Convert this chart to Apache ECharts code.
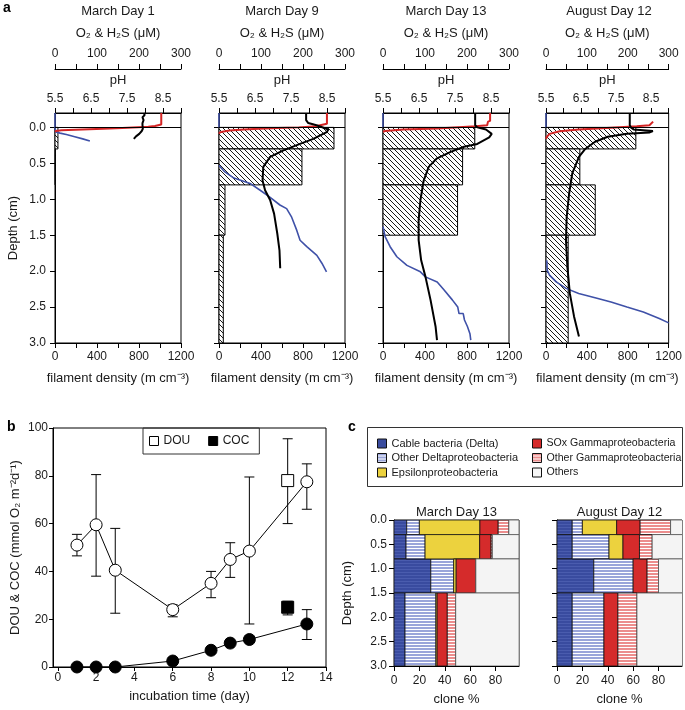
<!DOCTYPE html>
<html><head><meta charset="utf-8">
<script src="https://cdn.jsdelivr.net/npm/echarts@6/dist/echarts.min.js"></script>
<style>html,body{margin:0;padding:0;background:#fff}#c{width:685px;height:710px}</style>
</head><body><div id="c"></div>
<script>
// ---------------- DATA: panel a ----------------
const depthEdges = [0, 0.3, 0.8, 1.5, 3.0];
const panelTitlesA = ['March Day 1', 'March Day 9', 'March Day 13', 'August Day 12'];
const fil_d1 = [28, 4, 0, 0];
const fil_d9 = [1095, 790, 57, 41];
const fil_d13 = [874, 758, 710, 0];
const fil_a12 = [879, 331, 482, 217];

const h2sWaterDepth = [-0.2, 0];
const h2sWaterVal = [0, 0];

const o2Depth_d1 = [-0.2, -0.04, -0.02, -0.01, 0.01, 0.02, 0.03, 0.04, 0.05, 0.06];
const o2Val_d1 = [253, 253, 238, 222, 160, 115, 65, 15, 3, 0];
const h2sDepth_d1 = [0.0, 0.065, 0.08, 0.1, 0.13, 0.16, 0.19];
const h2sVal_d1 = [0, 2, 12, 27, 47, 66, 83];
const phDepth_d1 = [-0.2, -0.17, -0.14, -0.1, -0.06, -0.03, 0.02, 0.05, 0.09, 0.125, 0.16];
const phVal_d1 = [7.97, 7.99, 7.93, 7.96, 7.93, 7.93, 7.94, 7.91, 7.84, 7.75, 7.69];

const o2Depth_d9 = [-0.2, -0.05, -0.03, -0.015, 0, 0.01, 0.02, 0.03, 0.045, 0.06, 0.07, 0.09];
const o2Val_d9 = [257, 257, 253, 230, 190, 140, 95, 60, 25, 8, 2, 0];
const h2sDepth_d9 = [0.53, 0.62, 0.70, 0.78, 0.875, 0.97, 1.08, 1.13, 1.25, 1.43, 1.57, 1.66, 1.78, 1.89, 2.01];
const h2sVal_d9 = [0, 14, 34, 74, 98, 121, 145, 161, 173, 185, 193, 209, 233, 245, 256];
const phDepth_d9 = [-0.2, -0.1, -0.06, -0.03, 0.03, 0.065, 0.16, 0.23, 0.32, 0.41, 0.55, 0.74, 0.875, 1.01, 1.2, 1.48, 1.71, 1.96];
const phVal_d9 = [7.92, 7.92, 7.98, 8.21, 8.54, 8.49, 8.12, 7.75, 7.29, 6.92, 6.73, 6.71, 6.78, 6.92, 7.03, 7.12, 7.18, 7.2];

const o2Depth_d13 = [-0.2, -0.09, -0.08, -0.03, -0.014, 0.014, 0.03, 0.05, 0.06];
const o2Val_d13 = [255, 255, 250, 248, 221, 129, 49, 5, 0];
const h2sDepth_d13 = [1.38, 1.52, 1.66, 1.8, 1.92, 2.01, 2.08, 2.15, 2.26, 2.4, 2.5, 2.59, 2.59, 2.68, 2.77, 2.87, 2.96];
const h2sVal_d13 = [0, 5, 17, 33, 57, 89, 101, 129, 145, 165, 178, 181, 191, 194, 201, 207, 209];
const phDepth_d13 = [-0.2, -0.03, 0.0, 0.03, 0.09, 0.14, 0.23, 0.27, 0.34, 0.43, 0.55, 0.74, 1.01, 1.29, 1.57, 1.85, 2.08, 2.4, 2.77, 2.96];
const phVal_d13 = [8.06, 8.06, 8.12, 8.36, 8.52, 8.45, 8.12, 7.75, 7.38, 7.0, 6.77, 6.63, 6.54, 6.49, 6.49, 6.56, 6.68, 6.82, 6.96, 7.0];

const o2Depth_a12 = [-0.08, -0.07, -0.03, -0.014, 0.005, 0.03, 0.055, 0.09, 0.13, 0.16];
const o2Val_a12 = [262, 260, 253, 222, 159, 80, 33, 9, 2, 0];
const h2sDepth_a12 = [1.85, 1.99, 2.06, 2.15, 2.24, 2.31, 2.37, 2.43, 2.5, 2.57, 2.66, 2.72];
const h2sVal_a12 = [2, 3, 9, 25, 49, 80, 120, 159, 198, 238, 277, 300];
const phDepth_a12 = [-0.2, -0.03, 0.005, 0.03, 0.05, 0.07, 0.09, 0.13, 0.2, 0.3, 0.41, 0.64, 0.92, 1.25, 1.57, 1.94, 2.31, 2.63, 2.91];
const phVal_a12 = [7.89, 7.89, 7.93, 8.0, 8.55, 8.46, 7.81, 7.26, 6.9, 6.62, 6.44, 6.25, 6.16, 6.09, 6.07, 6.11, 6.18, 6.3, 6.44];

const o2Ticks = [0, 50, 100, 150, 200, 250, 300];
const o2Labels = [0, 100, 200, 300];
const phTicks = [5.5, 6, 6.5, 7, 7.5, 8, 8.5, 9];
const phLabels = [5.5, 6.5, 7.5, 8.5];
const filTicks = [0, 200, 400, 600, 800, 1000, 1200];
const filLabels = [0, 400, 800, 1200];
const depthTicks = [0, 0.5, 1.0, 1.5, 2.0, 2.5, 3.0];

// ---------------- DATA: panel b ----------------
const days = [1, 2, 3, 6, 8, 9, 10, 13];
const dou = [51, 59.5, 40.5, 24, 35, 45, 48.5, 77.5];
const douLo = [46.5, 38, 22.5, 21, 29, 37.5, 18, 66];
const douHi = [55.5, 80.5, 58, 26, 40, 52, 79.5, 85];
const coc = [0, 0, 0, 2.5, 7, 10, 11.5, 18];
const cocErrDays = [6, 13];
const cocLo = [1.3, 11.5];
const cocHi = [3.8, 24];
const squareDays = [12];
const douSq = [78], douSqLo = [60], douSqHi = [95.5];
const cocSq = [25], cocSqLo = [21.8], cocSqHi = [27.5];
const dayTicks = [0, 2, 4, 6, 8, 10, 12, 14];

// ---------------- DATA: panel c ----------------
const cloneCategories = ['Cable bacteria (Delta)', 'Other Deltaproteobacteria', 'Epsilonproteobacteria',
  'SOx Gammaproteobacteria', 'Other Gammaproteobacteria', 'Others'];
const cloneTitles = ['March Day 13', 'August Day 12'];
const mar_cable = [10, 9.5, 29, 8.7];
const mar_otherDelta = [10, 15, 18, 24.3];
const mar_epsilon = [47.7, 43, 2, 1];
const mar_sox = [14.4, 9, 15.5, 8];
const mar_otherGamma = [8.4, 1, 0, 6.6];
const mar_others = [8, 21, 34, 50];
const aug_cable = [12, 12, 29, 12];
const aug_otherDelta = [8, 29, 31, 25];
const aug_epsilon = [27, 11, 0, 0];
const aug_sox = [18.5, 13, 11, 11];
const aug_otherGamma = [24, 10, 9, 15];
const aug_others = [10, 24, 19, 36];
const cloneTicks = [0, 20, 40, 60, 80];

// ---------------- STYLE HELPERS ----------------
const FONT = '"Liberation Sans", Arial, Helvetica, sans-serif';
const TXT = '#1a1a1a';
function makeHatch() {
  const c = document.createElement('canvas'); c.width = 5; c.height = 5;
  const g = c.getContext('2d');
  g.fillStyle = '#fff'; g.fillRect(0, 0, 5, 5);
  g.strokeStyle = '#000'; g.lineWidth = 0.9;
  for (const o of [-5, 0, 5]) { g.beginPath(); g.moveTo(o - 1, -1); g.lineTo(o + 6, 6); g.stroke(); }
  return c;
}
function makeStripes(base, line) {
  const c = document.createElement('canvas'); c.width = 4; c.height = 3;
  const g = c.getContext('2d');
  g.fillStyle = base; g.fillRect(0, 0, 4, 3);
  g.fillStyle = line; g.fillRect(0, 2, 4, 1);
  return c;
}
const hatch = {image: makeHatch(), repeat: 'repeat'};
const stripeCable = {image: makeStripes('#394b9f', '#4a5cae'), repeat: 'repeat'};
const stripeBlue = {image: makeStripes('#9aa5da', '#ffffff'), repeat: 'repeat'};
const stripePink = {image: makeStripes('#ec8d8d', '#ffffff'), repeat: 'repeat'};
const cloneFills = [stripeCable, stripeBlue, '#ecd23e', '#d52b2b', stripePink, '#f4f4f4'];
const cloneLegendColors = ['#3a4c9e', stripeBlue, '#ecd23e', '#d52b2b', stripePink, '#f7f7f7'];

const RED = '#d42424', BLUE = '#3f51a8';
const num = v => String(v);

function axisBase(extra) {
  return Object.assign({
    type: 'value',
    axisLine: {show: true, onZero: false, lineStyle: {color: '#000', width: 1}},
    axisTick: {show: true, length: 5, lineStyle: {color: '#000', width: 1}},
    axisLabel: {color: TXT, fontSize: 12, fontFamily: FONT, formatter: num},
    splitLine: {show: false},
    nameTextStyle: {color: TXT, fontSize: 13, fontFamily: FONT},
    nameLocation: 'middle'
  }, extra);
}
const pairs = (xs, ys) => xs.map((x, k) => [x, ys[k]]);

// ---------------- BUILD ----------------
const grids = [], xAxes = [], yAxes = [], series = [], graphics = [];
const aLefts = [55, 219, 383, 546];
const aW = 126;
const panelsA = [
  {fil: fil_d1, o2: pairs(o2Val_d1, o2Depth_d1), h2s: pairs(h2sVal_d1, h2sDepth_d1), ph: pairs(phVal_d1, phDepth_d1)},
  {fil: fil_d9, o2: pairs(o2Val_d9, o2Depth_d9), h2s: pairs(h2sVal_d9, h2sDepth_d9), ph: pairs(phVal_d9, phDepth_d9)},
  {fil: fil_d13, o2: pairs(o2Val_d13, o2Depth_d13), h2s: pairs(h2sVal_d13, h2sDepth_d13), ph: pairs(phVal_d13, phDepth_d13)},
  {fil: fil_a12, o2: pairs(o2Val_a12, o2Depth_a12), h2s: pairs(h2sVal_a12, h2sDepth_a12), ph: pairs(phVal_a12, phDepth_a12)}
];

panelsA.forEach((p, i) => {
  grids.push({left: aLefts[i], top: 113, width: aW, height: 230, show: true, borderColor: '#000', borderWidth: 1, backgroundColor: 'transparent'});
  xAxes.push(axisBase({gridIndex: i, position: 'top', offset: 44, min: 0, max: 300,
    axisTick: {show: true, length: 5, customValues: o2Ticks, lineStyle: {color: '#000'}},
    axisLabel: {color: TXT, fontSize: 12, fontFamily: FONT, customValues: o2Labels, margin: 9, formatter: num},
    name: 'O₂ & H₂S (μM)', nameGap: 29}));
  xAxes.push(axisBase({gridIndex: i, position: 'top', offset: 0, min: 5.5, max: 9.0,
    axisTick: {show: true, length: 5, customValues: phTicks, lineStyle: {color: '#000'}},
    axisLabel: {color: TXT, fontSize: 12, fontFamily: FONT, customValues: phLabels, margin: 8, formatter: v => v.toFixed(1)},
    name: 'pH', nameGap: 26}));
  xAxes.push(axisBase({gridIndex: i, position: 'bottom', min: 0, max: 1200,
    axisTick: {show: true, length: 5, customValues: filTicks, lineStyle: {color: '#000'}},
    axisLabel: {color: TXT, fontSize: 12, fontFamily: FONT, customValues: filLabels, margin: 8, formatter: num},
    name: 'filament density (m cm⁻³)', nameGap: 29}));
  yAxes.push(axisBase({gridIndex: i, inverse: true, min: -0.2, max: 3.0,
    axisTick: {show: true, length: 5, customValues: depthTicks, lineStyle: {color: '#000'}},
    axisLabel: {show: i === 0, color: TXT, fontSize: 12, fontFamily: FONT, customValues: depthTicks, margin: 9, formatter: v => v.toFixed(1)},
    name: i === 0 ? 'Depth (cm)' : '', nameGap: 35}));
  graphics.push({type: 'text', x: aLefts[i] + aW / 2, y: 11, style: {text: panelTitlesA[i], align: 'center', verticalAlign: 'middle', font: '13px ' + FONT, fill: TXT}});

  const barData = p.fil.map((v, k) => [depthEdges[k], depthEdges[k + 1], v]);
  series.push({
    type: 'custom', xAxisIndex: 3 * i + 2, yAxisIndex: i, z: 1, silent: true,
    data: barData, encode: {x: 2, y: [0, 1]},
    renderItem: (params, api) => {
      const v = api.value(2);
      if (!(v > 0)) return null;
      const p0 = api.coord([0, api.value(0)]);
      const p1 = api.coord([v, api.value(1)]);
      return {type: 'rect', shape: {x: p0[0], y: p0[1], width: p1[0] - p0[0], height: p1[1] - p0[1]},
        style: {fill: hatch, stroke: '#000', lineWidth: 1}};
    }
  });
  const lineCommon = {type: 'line', yAxisIndex: i, symbol: 'none', silent: true, animation: false};
  series.push(Object.assign({}, lineCommon, {xAxisIndex: 3 * i, z: 3, data: pairs(h2sWaterVal, h2sWaterDepth), lineStyle: {color: BLUE, width: 1.5}}));
  series.push(Object.assign({}, lineCommon, {xAxisIndex: 3 * i, z: 3, data: p.h2s, lineStyle: {color: BLUE, width: 1.6}}));
  series.push(Object.assign({}, lineCommon, {xAxisIndex: 3 * i, z: 4, data: p.o2, lineStyle: {color: RED, width: 2}}));
  series.push(Object.assign({}, lineCommon, {xAxisIndex: 3 * i + 1, z: 5, data: p.ph, lineStyle: {color: '#000', width: 2},
    markLine: {silent: true, symbol: 'none', label: {show: false}, lineStyle: {color: '#000', width: 1, type: 'solid'}, data: [{yAxis: 0}]}}));
});

// ---------------- panel b ----------------
const gB = grids.length;
grids.push({left: 53, top: 428, width: 273, height: 239, show: true, borderColor: '#000', borderWidth: 1, backgroundColor: 'transparent'});
const xB = xAxes.length;
xAxes.push(axisBase({gridIndex: gB, position: 'bottom', min: -0.25, max: 14,
  axisTick: {show: true, length: 4, customValues: dayTicks, lineStyle: {color: '#000'}},
  axisLabel: {color: TXT, fontSize: 12, fontFamily: FONT, customValues: dayTicks, margin: 5, formatter: num},
  name: 'incubation time (day)', nameGap: 23}));
const yB = yAxes.length;
yAxes.push(axisBase({gridIndex: gB, min: 0, max: 100, interval: 20,
  axisTick: {show: true, length: 4, lineStyle: {color: '#000'}},
  axisLabel: {color: TXT, fontSize: 12, fontFamily: FONT, margin: 5, formatter: num},
  name: 'DOU & COC (mmol O₂ m⁻²d⁻¹)', nameGap: 31}));

const errRender = (params, api) => {
  const x = api.value(0);
  const a = api.coord([x, api.value(1)]), b = api.coord([x, api.value(2)]);
  const w = 5, st = {stroke: '#000', lineWidth: 1};
  return {type: 'group', children: [
    {type: 'line', shape: {x1: a[0], y1: a[1], x2: b[0], y2: b[1]}, style: st},
    {type: 'line', shape: {x1: a[0] - w, y1: a[1], x2: a[0] + w, y2: a[1]}, style: st},
    {type: 'line', shape: {x1: b[0] - w, y1: b[1], x2: b[0] + w, y2: b[1]}, style: st}
  ]};
};
const errData = days.map((d, k) => [d, douLo[k], douHi[k]])
  .concat(cocErrDays.map((d, k) => [d, cocLo[k], cocHi[k]]))
  .concat(squareDays.map((d, k) => [d, douSqLo[k], douSqHi[k]]))
  .concat(squareDays.map((d, k) => [d, cocSqLo[k], cocSqHi[k]]));
series.push({type: 'custom', name: 'err', xAxisIndex: xB, yAxisIndex: yB, z: 2, silent: true,
  data: errData, encode: {x: 0, y: [1, 2]}, renderItem: errRender});
series.push({type: 'line', name: 'DOU circles', xAxisIndex: xB, yAxisIndex: yB, z: 4, silent: true,
  data: pairs(days, dou), symbol: 'circle', symbolSize: 12,
  itemStyle: {color: '#fff', borderColor: '#000', borderWidth: 1, opacity: 1}, lineStyle: {color: '#000', width: 1}});
series.push({type: 'line', name: 'COC circles', xAxisIndex: xB, yAxisIndex: yB, z: 4, silent: true,
  data: pairs(days, coc), symbol: 'circle', symbolSize: 12,
  itemStyle: {color: '#000', borderColor: '#000', borderWidth: 1, opacity: 1}, lineStyle: {color: '#000', width: 1}});
series.push({type: 'scatter', name: 'DOU', xAxisIndex: xB, yAxisIndex: yB, z: 5, silent: true,
  data: pairs(squareDays, douSq), symbol: 'rect', symbolSize: 12,
  itemStyle: {color: '#fff', borderColor: '#000', borderWidth: 1, opacity: 1}});
series.push({type: 'scatter', name: 'COC', xAxisIndex: xB, yAxisIndex: yB, z: 5, silent: true,
  data: pairs(squareDays, cocSq), symbol: 'rect', symbolSize: 12,
  itemStyle: {color: '#000', borderColor: '#000', borderWidth: 1, opacity: 1}});

// ---------------- panel c ----------------
const cloneSets = [
  [mar_cable, mar_otherDelta, mar_epsilon, mar_sox, mar_otherGamma, mar_others],
  [aug_cable, aug_otherDelta, aug_epsilon, aug_sox, aug_otherGamma, aug_others]
];
const cLefts = [394, 557], cW = 125;
cloneSets.forEach((set, j) => {
  const gi = grids.length;
  grids.push({left: cLefts[j], top: 520, width: cW, height: 146, show: true, borderColor: '#000', borderWidth: 1, backgroundColor: 'transparent'});
  const xi = xAxes.length;
  xAxes.push(axisBase({gridIndex: gi, position: 'bottom', min: 0, max: 98.5,
    axisTick: {show: true, length: 5, customValues: cloneTicks, lineStyle: {color: '#000'}},
    axisLabel: {color: TXT, fontSize: 12, fontFamily: FONT, customValues: cloneTicks, margin: 9, formatter: num},
    name: 'clone %', nameGap: 27}));
  const yi = yAxes.length;
  yAxes.push(axisBase({gridIndex: gi, inverse: true, min: 0, max: 3.0,
    axisTick: {show: true, length: 5, customValues: depthTicks, lineStyle: {color: '#000'}},
    axisLabel: {show: j === 0, color: TXT, fontSize: 12, fontFamily: FONT, customValues: depthTicks, margin: 7, formatter: v => v.toFixed(1)},
    name: j === 0 ? 'Depth (cm)' : '', nameGap: 40}));
  graphics.push({type: 'text', x: cLefts[j] + cW / 2, y: 512, style: {text: cloneTitles[j], align: 'center', verticalAlign: 'middle', font: '13px ' + FONT, fill: TXT}});
  const cum = [0, 0, 0, 0];
  set.forEach((vals, c) => {
    const data = vals.map((v, r) => {
      const d = [depthEdges[r], depthEdges[r + 1], cum[r], cum[r] + v];
      cum[r] += v;
      return d;
    });
    series.push({type: 'custom', name: cloneCategories[c], xAxisIndex: xi, yAxisIndex: yi, z: 2, silent: true, clip: true,
      itemStyle: {color: typeof cloneLegendColors[c] === 'string' ? cloneLegendColors[c] : '#aaa'},
      data: data, encode: {x: [2, 3], y: [0, 1]},
      renderItem: (params, api) => {
        if (!(api.value(3) - api.value(2) > 0)) return null;
        const a = api.coord([api.value(2), api.value(0)]);
        const b = api.coord([api.value(3), api.value(1)]);
        return {type: 'rect', shape: {x: a[0], y: a[1], width: b[0] - a[0], height: b[1] - a[1]},
          style: {fill: cloneFills[c], stroke: c === 5 ? '#555' : '#111', lineWidth: 0.8}};
      }
    });
  });
});

// panel letters + legend frame
graphics.push({type: 'text', x: 3, y: 1, style: {text: 'a', font: 'bold 14px ' + FONT, fill: '#000'}});
graphics.push({type: 'text', x: 7, y: 420, style: {text: 'b', font: 'bold 14px ' + FONT, fill: '#000'}});
graphics.push({type: 'text', x: 348, y: 420, style: {text: 'c', font: 'bold 14px ' + FONT, fill: '#000'}});
graphics.push({type: 'rect', shape: {x: 367.5, y: 427.5, width: 315, height: 59}, style: {fill: 'none', stroke: '#333', lineWidth: 1}});

const legendText = {color: TXT, fontSize: 11, fontFamily: FONT};
const legItem = (c) => ({name: cloneCategories[c], icon: 'rect', itemStyle: {color: cloneLegendColors[c], borderColor: '#111', borderWidth: 1}});

const option = {
  animation: false,
  backgroundColor: '#fff',
  grid: grids, xAxis: xAxes, yAxis: yAxes, series: series,
  graphic: graphics,
  legend: [
    {left: 143, top: 428, padding: [7, 10, 7, 6], itemGap: 18, itemWidth: 9, itemHeight: 9,
      borderColor: '#333', borderWidth: 1, selectedMode: false,
      textStyle: {color: TXT, fontSize: 12, fontFamily: FONT},
      data: [{name: 'DOU', icon: 'rect', itemStyle: {color: '#fff', borderColor: '#000', borderWidth: 1}},
             {name: 'COC', icon: 'rect', itemStyle: {color: '#000', borderColor: '#000', borderWidth: 1}}]},
    {left: 377, top: 438, orient: 'vertical', itemGap: 3.5, itemWidth: 9, itemHeight: 9, padding: 0, selectedMode: false,
      textStyle: legendText, data: [legItem(0), legItem(1), legItem(2)]},
    {left: 532, top: 438, orient: 'vertical', itemGap: 3.5, itemWidth: 9, itemHeight: 9, padding: 0, selectedMode: false,
      textStyle: Object.assign({}, legendText, {fontSize: 10.6}), data: [legItem(3), legItem(4), legItem(5)]}
  ]
};
const chart = echarts.init(document.getElementById('c'), null, {renderer: 'canvas'});
chart.setOption(option);
</script></body></html>
